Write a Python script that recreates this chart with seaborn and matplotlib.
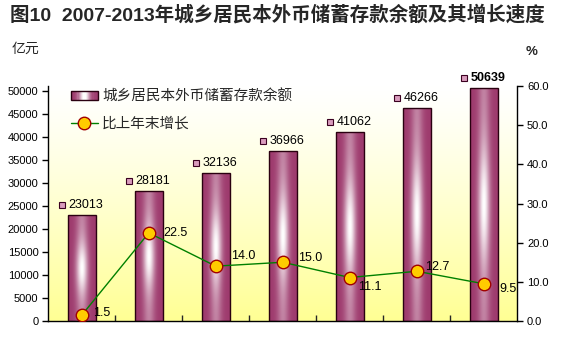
import numpy as np
import pandas as pd
import matplotlib
matplotlib.use("Agg")
import matplotlib.pyplot as plt
import seaborn as sns
from matplotlib.patches import Rectangle
from matplotlib.legend_handler import HandlerBase
from matplotlib.lines import Line2D

sns.set_theme(style="white")
plt.rcParams['font.family'] = ['Liberation Sans', 'Noto Sans CJK SC', 'DejaVu Sans']

years = ["2007", "2008", "2009", "2010", "2011", "2012", "2013"]
balance = [23013, 28181, 32136, 36966, 41062, 46266, 50639]
growth = [1.5, 22.5, 14.0, 15.0, 11.1, 12.7, 9.5]
bar_name = "城乡居民本外币储蓄存款余额"
line_name = "比上年末增长"
title = "图10  2007-2013年城乡居民本外币储蓄存款余额及其增长速度"

df = pd.DataFrame({"year": years, "balance": balance, "growth": growth})

BASE = np.array([0.62, 0.23, 0.43])

fig = plt.figure(figsize=(5.67, 3.56), dpi=100)
ax = fig.add_axes([48.3 / 567, 1 - 321 / 356, (517.3 - 48.3) / 567, (321 - 86) / 356])

# plot-area gradient background
bg = np.linspace(0, 1, 256)[:, None] ** 1.2
top = np.array([1.0, 1.0, 1.0])
bot = np.array([1.0, 1.0, 0.58])
bg_img = top[None, None, :] * (1 - bg[:, :, None]) + bot[None, None, :] * bg[:, :, None]
ax.imshow(bg_img, extent=[0, 1, 0, 1], transform=ax.transAxes, aspect='auto', zorder=0)

sns.barplot(data=df, x="year", y="balance", ax=ax, color=BASE, width=0.41,
            edgecolor="#2a0010", linewidth=1.0, zorder=2)

# gradient fill inside bars
h, w = 200, 60
xx = np.linspace(-1, 1, w)[None, :]
yy = np.linspace(-1, 1, h)[:, None]
wh = np.exp(-(xx / 0.42) ** 2) * (0.35 + 0.65 * np.exp(-(yy / 0.5) ** 2))
wh = np.clip(wh, 0, 1)[:, :, None]
grad = BASE[None, None, :] * (1 - wh) + np.ones(3)[None, None, :] * wh
for p in ax.patches:
    x0, y0 = p.get_x(), p.get_y()
    im = ax.imshow(grad, extent=[x0, x0 + p.get_width(), y0, y0 + p.get_height()],
                   aspect='auto', zorder=2.5)
    im.set_clip_path(p)
    p.set_facecolor("none")
    p.set_zorder(3)

ax.set_xlim(-0.5, len(years) - 0.5)
ax.set_ylim(0, 51100)
ax.set_yticks(np.arange(0, 50001, 5000))
ax.set_xlabel("")
ax.set_ylabel("")

# bar value labels with small square markers
for i, v in enumerate(balance):
    ax.annotate(f"{v}", (i, v), xytext=(-13, 10), textcoords="offset pixels",
                ha="left", va="center", fontsize=9, color="black", zorder=6,
                fontweight="bold" if i == len(balance) - 1 else "normal")
    ax.plot([i], [v], marker="s", linestyle="none", markersize=4.5,
            markerfacecolor="#D99CBD", markeredgecolor="#3a0020", markeredgewidth=0.8,
            transform=ax.transData + matplotlib.transforms.ScaledTranslation(-20 / 100, 10 / 100, fig.dpi_scale_trans),
            zorder=6, clip_on=False)

ax2 = ax.twinx()
ax2.patch.set_visible(False)
sns.lineplot(x=np.arange(len(years)), y=growth, ax=ax2, color="#008000", linewidth=1.0,
             marker="o", markersize=9, markerfacecolor="#FFCC00", markeredgecolor="#A00000",
             markeredgewidth=1.0, zorder=5)
ax2.set_ylim(0, 60)
ax2.set_yticks(np.arange(0, 60.1, 10))
ax2.set_yticklabels([f"{t:.1f}" for t in np.arange(0, 60.1, 10)])
ax2.set_xlim(-0.5, len(years) - 0.5)

offsets = [(11, 2), (15, 0), (15, 10), (15, 4), (8, -9), (8, 4), (16, -5)]
for i, (g, off) in enumerate(zip(growth, offsets)):
    ax2.annotate(f"{g:.1f}", (i, g), xytext=off, textcoords="offset pixels",
                 ha="left", va="center", fontsize=9, color="black", zorder=7)

# axes styling
for a in (ax, ax2):
    for s in a.spines.values():
        s.set_color("black")
        s.set_linewidth(1.0)
    a.spines["top"].set_visible(False)
ax.spines["right"].set_visible(False)
ax2.spines["left"].set_visible(False)
ax2.spines["bottom"].set_visible(False)

ax.tick_params(axis="y", which="major", direction="out", length=4, width=1, pad=3,
               labelsize=8, left=True, colors="black")
ax2.tick_params(axis="y", which="major", direction="out", length=4, width=1, pad=3,
                labelsize=8, right=True, colors="black")
ax.set_xticks(np.arange(len(years)))
ax.set_xticklabels(years)
ax.tick_params(axis="x", which="major", length=0, pad=10, labelsize=9, colors="black")
ax.set_xticks(np.arange(0.5, len(years) - 0.5, 1), minor=True)
ax.tick_params(axis="x", which="minor", direction="in", length=4, width=1, bottom=True)
ax2.set_xticks([])
ax2.set_xlabel("")
ax2.set_ylabel("")


class GradHandler(HandlerBase):
    def create_artists(self, legend, orig_handle, xdescent, ydescent, width, height, fontsize, trans):
        arts = []
        n = 24
        y0 = -ydescent + height * 0.1
        hh = height * 0.8
        for k in range(n):
            t = (k + 0.5) / n * 2 - 1
            wv = np.exp(-(t / 0.4) ** 2)
            c = BASE * (1 - wv) + wv
            r = Rectangle((-xdescent + width * k / n, y0), width / n + 0.3, hh,
                          facecolor=c, edgecolor="none", transform=trans)
            arts.append(r)
        arts.append(Rectangle((-xdescent, y0), width, hh, facecolor="none",
                              edgecolor="#2a0010", linewidth=1.0, transform=trans))
        return arts


bar_handle = Rectangle((0, 0), 1, 1)
line_handle = Line2D([], [], color="#008000", linewidth=1.0, marker="o", markersize=9,
                     markerfacecolor="#FFCC00", markeredgecolor="#A00000")
leg = ax2.legend([bar_handle, line_handle], [bar_name, line_name],
                 handler_map={Rectangle: GradHandler()},
                 loc="upper left", bbox_to_anchor=(0.035, 1.01), frameon=False,
                 fontsize=10.5, handlelength=1.9, handletextpad=0.25, labelspacing=0.9,
                 borderaxespad=0)

fig.text(10 / 567, 1 - 15 / 356, title, fontsize=14, fontweight="bold", ha="left", va="center")
fig.text(12 / 567, 1 - 49 / 356, "亿元", fontsize=10, ha="left", va="center")
fig.text(532 / 567, 1 - 52 / 356, "%", fontsize=9.5, fontweight="bold", ha="center", va="center")

fig.savefig("out.png", dpi=100)
